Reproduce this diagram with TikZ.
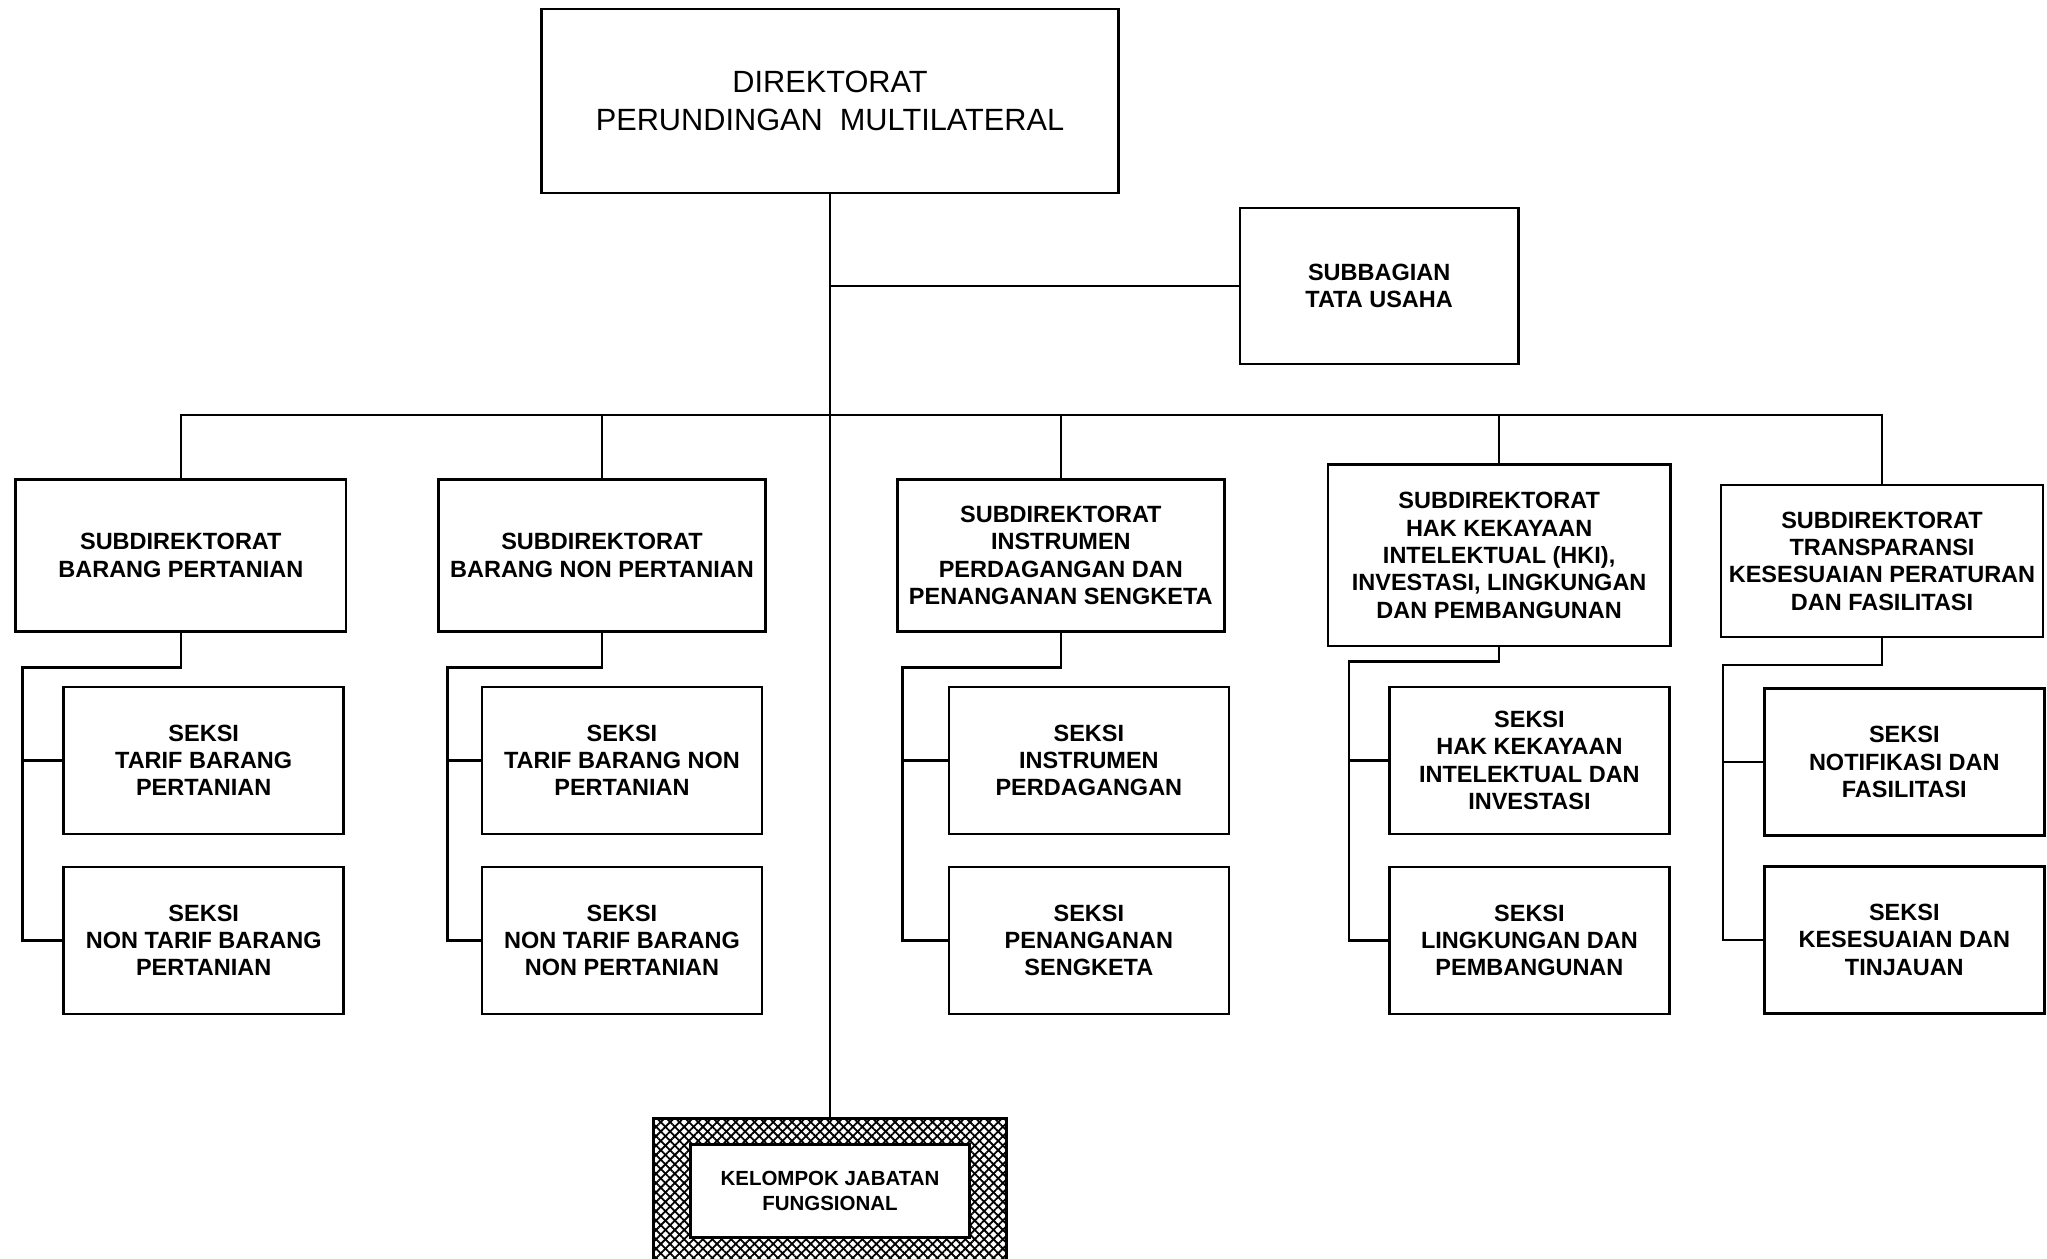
\documentclass[tikz,border=0pt]{standalone}
\usepackage{fontspec}
\setmainfont{Liberation Sans}
\usetikzlibrary{patterns.meta}

\begin{document}
\begin{tikzpicture}[node distance=2cm, line width=1.3pt]

% Styles
\tikzstyle{direktorat} = [draw, rectangle, minimum width=10.1cm, minimum height=3.22cm, align=center, font=\fontsize{15.3}{19}\selectfont]
\tikzstyle{subdit} = [draw, rectangle, minimum width=5.72cm, minimum height=2.66cm, align=center, inner sep=2pt, font=\fontsize{11.7}{13.6}\selectfont\bfseries]
\tikzstyle{seksi} = [subdit, minimum width=4.9cm, minimum height=2.57cm]
\tikzstyle{kelompok} = [draw, rectangle, minimum width=6.18cm, minimum height=2.54cm, pattern={Lines[angle=45,distance=3.3pt,line width=0.9pt]}, preaction={pattern={Lines[angle=-45,distance=3.3pt,line width=0.9pt]}}]
\tikzstyle{kelompokdalam} = [draw, rectangle, fill=white, minimum width=4.88cm, minimum height=1.63cm, align=center, font=\fontsize{10.2}{12.4}\selectfont\bfseries]

\useasboundingbox (-14.525,1.7675) rectangle (21.2975,-20.2475);

% Nodes - Direktorat
\node[direktorat] (dir) {DIREKTORAT\\PERUNDINGAN\ \ MULTILATERAL};
\node[subdit, right of=dir, node distance=9.61cm, yshift=-3.24cm, minimum width=4.87cm, minimum height=2.73cm] (tu) {SUBBAGIAN\\TATA USAHA};

% Nodes - Subdirektorat
\node[subdit, below of=dir, node distance=7.95cm, xshift=-11.36cm, minimum width=5.78cm] (sub1) {SUBDIREKTORAT\\BARANG PERTANIAN};
\node[subdit, below of=dir, node distance=7.95cm, xshift=-3.99cm] (sub2) {SUBDIREKTORAT\\BARANG NON PERTANIAN};
\node[subdit, below of=dir, node distance=7.95cm, xshift=4.04cm] (sub3) {SUBDIREKTORAT\\INSTRUMEN\\PERDAGANGAN DAN\\PENANGANAN SENGKETA};
\node[subdit, below of=dir, node distance=7.95cm, xshift=11.71cm, minimum width=5.99cm, minimum height=3.17cm] (sub4) {SUBDIREKTORAT\\HAK KEKAYAAN\\INTELEKTUAL (HKI),\\INVESTASI, LINGKUNGAN\\DAN PEMBANGUNAN};
\node[subdit, below of=dir, node distance=8.05cm, xshift=18.41cm, minimum width=5.64cm] (sub5) {SUBDIREKTORAT\\TRANSPARANSI\\KESESUAIAN PERATURAN\\DAN FASILITASI};

% Nodes - Seksi
\node[seksi, below of=sub1, node distance=3.59cm, xshift=0.40cm] (s1a) {SEKSI\\TARIF BARANG\\PERTANIAN};
\node[seksi, below of=sub1, node distance=6.74cm, xshift=0.40cm] (s1b) {SEKSI\\NON TARIF BARANG\\PERTANIAN};
\node[seksi, below of=sub2, node distance=3.59cm, xshift=0.35cm] (s2a) {SEKSI\\TARIF BARANG NON\\PERTANIAN};
\node[seksi, below of=sub2, node distance=6.74cm, xshift=0.35cm] (s2b) {SEKSI\\NON TARIF BARANG\\NON PERTANIAN};
\node[seksi, below of=sub3, node distance=3.59cm, xshift=0.49cm] (s3a) {SEKSI\\INSTRUMEN\\PERDAGANGAN};
\node[seksi, below of=sub3, node distance=6.74cm, xshift=0.49cm] (s3b) {SEKSI\\PENANGANAN\\SENGKETA};
\node[seksi, below of=sub4, node distance=3.59cm, xshift=0.53cm] (s4a) {SEKSI\\HAK KEKAYAAN\\INTELEKTUAL DAN\\INVESTASI};
\node[seksi, below of=sub4, node distance=6.74cm, xshift=0.53cm] (s4b) {SEKSI\\LINGKUNGAN DAN\\PEMBANGUNAN};
\node[seksi, below of=sub5, node distance=3.52cm, xshift=0.39cm] (s5a) {SEKSI\\NOTIFIKASI DAN\\FASILITASI};
\node[seksi, below of=sub5, node distance=6.63cm, xshift=0.39cm] (s5b) {SEKSI\\KESESUAIAN DAN\\TINJAUAN};

% Kelompok Jabatan Fungsional
\node[kelompok, below of=dir, node distance=19.075cm] (kjf) {};
\node[kelompokdalam] (kjftext) at (kjf) {KELOMPOK JABATAN\\FUNGSIONAL};

% Connections
\draw (dir.south) -- (kjf.north);
\draw (dir.south |- tu.west) -- (tu.west);
\coordinate[below of=dir, node distance=5.495cm] (bus);
\draw (sub1.north) |- (bus) -| (sub5.north);
\draw (sub2.north) -- (sub2.north |- bus);
\draw (sub3.north) -- (sub3.north |- bus);
\draw (sub4.north) -- (sub4.north |- bus);

% Brackets to seksi
\coordinate[below of=sub1, node distance=1.96cm, xshift=-2.77cm] (k1);
\draw (sub1.south) |- (k1) |- (s1b.west);
\draw (k1 |- s1a.west) -- (s1a.west);
\coordinate[below of=sub2, node distance=1.96cm, xshift=-2.70cm] (k2);
\draw (sub2.south) |- (k2) |- (s2b.west);
\draw (k2 |- s2a.west) -- (s2a.west);
\coordinate[below of=sub3, node distance=1.96cm, xshift=-2.77cm] (k3);
\draw (sub3.south) |- (k3) |- (s3b.west);
\draw (k3 |- s3a.west) -- (s3a.west);
\coordinate[below of=sub4, node distance=1.86cm, xshift=-2.63cm] (k4);
\draw (sub4.south) |- (k4) |- (s4b.west);
\draw (k4 |- s4a.west) -- (s4a.west);
\coordinate[below of=sub5, node distance=1.82cm, xshift=-2.78cm] (k5);
\draw (sub5.south) |- (k5) |- (s5b.west);
\draw (k5 |- s5a.west) -- (s5a.west);

\end{tikzpicture}
\end{document}
